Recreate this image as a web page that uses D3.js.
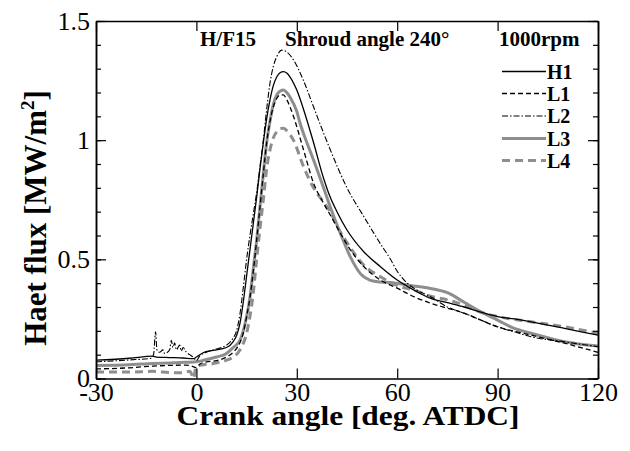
<!DOCTYPE html>
<html>
<head>
<meta charset="utf-8">
<script src="https://cdn.jsdelivr.net/npm/d3@7"></script>
<style>
  body { margin: 0; background: #fff; }
  svg { display: block; }
</style>
</head>
<body>
<svg width="630" height="451"></svg>
<script>
// crank angle [deg ATDC], heat flux [MW/m2]
var H1 = [[-30,0.077],[-20,0.085],[-13,0.094],[-12,0.09],[-8,0.088],[-4,0.086],[-1,0.083],[0,0.09],[2,0.108],[5,0.118],[9,0.13],[11,0.155],[12,0.18],[13,0.23],[14,0.32],[15,0.43],[16,0.54],[17,0.65],[18,0.76],[19,0.88],[20,0.99],[21,1.09],[22,1.17],[23,1.23],[24,1.265],[25,1.283],[26,1.288],[27,1.282],[28,1.265],[30,1.21],[32,1.13],[35,0.99],[38,0.84],[40,0.76],[42,0.7],[45,0.623],[50,0.532],[55,0.469],[60,0.413],[65,0.371],[70,0.336],[75,0.318],[80,0.3],[85,0.278],[90,0.26],[95,0.25],[100,0.238],[110,0.21],[120,0.182]];
var L1 = [[-30,0.04],[-20,0.045],[-13,0.052],[-8,0.055],[-3,0.056],[-1,0.05],[0,0.045],[1,0.06],[3,0.07],[6,0.075],[9,0.09],[11,0.11],[13,0.15],[14,0.19],[15,0.26],[16,0.34],[17,0.45],[18,0.58],[19,0.72],[20,0.86],[21,0.99],[22,1.08],[23,1.14],[24,1.175],[25,1.19],[26,1.19],[27,1.17],[29,1.1],[32,0.96],[35,0.82],[38,0.735],[40,0.686],[43,0.61],[46,0.54],[50,0.47],[55,0.413],[60,0.379],[65,0.343],[70,0.316],[80,0.274],[90,0.217],[100,0.182],[110,0.148],[120,0.11]];
var L2 = [[-30,0.07],[-20,0.078],[-13.5,0.085],[-12.8,0.1],[-12.2,0.196],[-11.8,0.12],[-11,0.11],[-10,0.12],[-9.5,0.105],[-8,0.12],[-7.5,0.16],[-7,0.13],[-6.5,0.15],[-6,0.12],[-5,0.14],[-4.5,0.115],[-4,0.13],[-3,0.11],[-2,0.1],[-1,0.09],[0,0.075],[1,0.095],[3,0.11],[5,0.12],[9,0.14],[11,0.17],[12,0.2],[13,0.27],[14,0.38],[15,0.5],[16,0.6],[17,0.69],[18,0.78],[19,0.89],[20,1.0],[21,1.13],[22,1.24],[23,1.31],[24,1.35],[25.5,1.378],[27,1.37],[29,1.337],[32,1.25],[35,1.14],[38,1.03],[40,0.96],[45,0.8],[50,0.68],[53,0.61],[55,0.565],[58,0.5],[60,0.45],[63,0.4],[66,0.37],[70,0.343],[75,0.3],[80,0.274],[85,0.245],[90,0.217],[95,0.196],[100,0.175],[110,0.154],[120,0.133]];
var L3 = [[-30,0.055],[-20,0.058],[-13,0.063],[-8,0.065],[-3,0.068],[0,0.07],[3,0.08],[6,0.09],[9,0.105],[11,0.13],[13,0.16],[14,0.2],[15,0.26],[16,0.34],[17,0.46],[18,0.58],[19,0.72],[20,0.86],[21,0.99],[22,1.08],[23,1.15],[24,1.19],[25,1.205],[26,1.21],[27,1.2],[28,1.18],[30,1.12],[31,1.07],[33,0.99],[35,0.917],[38,0.8],[40,0.72],[43,0.61],[46,0.51],[49,0.44],[52,0.412],[55,0.405],[58,0.403],[64,0.39],[70,0.378],[75,0.36],[80,0.32],[85,0.28],[90,0.245],[95,0.21],[100,0.19],[110,0.154],[120,0.136]];
var L4 = [[-30,0.027],[-20,0.027],[-13,0.03],[-8,0.025],[-4,0.024],[-2,0.03],[-1.2,0.012],[-0.8,0.0],[-0.3,0.04],[0,0.05],[2,0.058],[5,0.063],[9,0.077],[11,0.09],[13,0.12],[15,0.19],[16,0.26],[17,0.36],[18,0.5],[19,0.63],[20,0.75],[21,0.88],[22,0.96],[23,1.01],[24,1.035],[25,1.048],[26,1.05],[27,1.04],[29,1.0],[32,0.89],[35,0.8],[38,0.74],[40,0.7],[42,0.64],[45,0.57],[50,0.476],[55,0.427],[60,0.39],[65,0.371],[70,0.345],[75,0.33],[80,0.308],[85,0.278],[90,0.26],[100,0.238],[110,0.217],[120,0.19]];

var seriesNames = ["H1", "L1", "L2", "L3", "L4"];
var xTicks = [-30, 0, 30, 60, 90, 120];
var yTicks = [0, 0.5, 1, 1.5];
var yMinor = d3.range(0, 1.51, 0.1);

var serif = "'Liberation Serif', 'Times New Roman', serif";
var grey = "#8e8e8e";
var styles = {
  H1: { stroke: "#000", width: 1.3, dash: null },
  L1: { stroke: "#000", width: 1.3, dash: "5,3" },
  L2: { stroke: "#000", width: 1.1, dash: "6,2,1.5,2" },
  L3: { stroke: grey, width: 3, dash: null },
  L4: { stroke: grey, width: 3, dash: "8,5" }
};
var data = { H1: H1, L1: L1, L2: L2, L3: L3, L4: L4 };

var svg = d3.select("svg");
var x = d3.scaleLinear().domain([-30, 120]).range([96, 598]);
var y = d3.scaleLinear().domain([0, 1.5]).range([378.5, 21]);

var line = d3.line()
  .x(function(d) { return x(d[0]); })
  .y(function(d) { return y(d[1]); })
  .curve(d3.curveMonotoneX);

// grey curves first so the thin black ones stay on top
["L4", "L3", "L1", "L2", "H1"].forEach(function(k) {
  svg.append("path")
    .attr("d", line(data[k]))
    .attr("fill", "none")
    .attr("stroke", styles[k].stroke)
    .attr("stroke-width", styles[k].width)
    .attr("stroke-dasharray", styles[k].dash);
});

// axes, ticks pointing inward
function styleAxis(g) {
  g.attr("font-family", serif).attr("font-size", 26);
  g.selectAll("path.domain").attr("stroke-width", 1.5);
  g.selectAll(".tick line").attr("stroke-width", 1.2);
  g.selectAll("text").attr("fill", "#000");
}

svg.append("g").attr("transform", "translate(0," + y(0) + ")")
  .call(d3.axisBottom(x).tickValues(xTicks).tickSize(-10).tickSizeOuter(0).tickPadding(4)
    .tickFormat(function(d) { return d; }))
  .call(styleAxis);
svg.append("g").attr("transform", "translate(0," + y(1.5) + ")")
  .call(d3.axisTop(x).tickValues(xTicks).tickSize(-10).tickSizeOuter(0).tickFormat(""))
  .call(styleAxis);
svg.append("g").attr("transform", "translate(" + x(-30) + ",0)")
  .call(d3.axisLeft(y).tickValues(yMinor).tickSize(-5).tickSizeOuter(0).tickFormat(""))
  .call(styleAxis);
svg.append("g").attr("transform", "translate(" + x(-30) + ",0)")
  .call(d3.axisLeft(y).tickValues(yTicks).tickSize(-10).tickSizeOuter(0).tickPadding(6)
    .tickFormat(function(d) { return d; }))
  .call(styleAxis);
svg.append("g").attr("transform", "translate(" + x(120) + ",0)")
  .call(d3.axisRight(y).tickValues(yMinor).tickSize(-5).tickSizeOuter(0).tickFormat(""))
  .call(styleAxis);
svg.append("g").attr("transform", "translate(" + x(120) + ",0)")
  .call(d3.axisRight(y).tickValues(yTicks).tickSize(-10).tickSizeOuter(0).tickFormat(""))
  .call(styleAxis);

// axis titles (the original lettering is a little wide, so stretch it)
svg.append("text")
  .attr("x", 348).attr("y", 425)
  .attr("text-anchor", "middle")
  .attr("font-family", serif).attr("font-weight", "bold").attr("font-size", 27)
  .attr("textLength", 343).attr("lengthAdjust", "spacingAndGlyphs")
  .text("Crank angle [deg. ATDC]");

var yt = svg.append("text")
  .attr("transform", "translate(46,218) rotate(-90)")
  .attr("text-anchor", "middle")
  .attr("font-family", serif).attr("font-weight", "bold").attr("font-size", 31);
yt.append("tspan").text("Haet flux [MW/m");
yt.append("tspan").attr("font-size", 19).attr("dy", -12).text("2");
yt.append("tspan").attr("dy", 12).text("]");

// header texts
var head = svg.append("g")
  .attr("font-family", serif).attr("font-weight", "bold").attr("font-size", 21);
head.append("text").attr("x", 200).attr("y", 46).text("H/F15");
head.append("text").attr("x", 285).attr("y", 46).text("Shroud angle 240\u00b0");
head.append("text").attr("x", 499).attr("y", 46).text("1000rpm");

// legend
var legY = [71.5, 93.5, 116, 138.5, 160.5];
var leg = svg.append("g").selectAll("g")
  .data(seriesNames)
  .enter().append("g")
  .attr("transform", function(d, i) { return "translate(0," + legY[i] + ")"; });
leg.append("line")
  .attr("x1", 502).attr("x2", 546)
  .attr("stroke", function(d) { return styles[d].stroke; })
  .attr("stroke-width", function(d) { return styles[d].width; })
  .attr("stroke-dasharray", function(d) { return styles[d].dash; });
leg.append("text")
  .attr("x", 547).attr("y", 7)
  .attr("font-family", serif).attr("font-weight", "bold").attr("font-size", 20)
  .text(function(d) { return d; });
</script>
</body>
</html>
